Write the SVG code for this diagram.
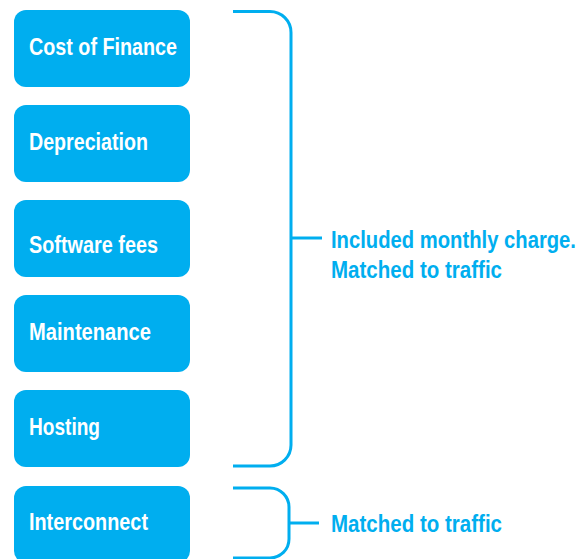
<svg xmlns="http://www.w3.org/2000/svg" width="582" height="559" viewBox="0 0 582 559">
<style>
.box{fill:#00AEEF;}
.lbl{fill:#fff;font-family:"Liberation Sans",Arial,sans-serif;font-weight:bold;font-size:24px;}
.note{fill:#00AEEF;font-family:"Liberation Sans",Arial,sans-serif;font-weight:bold;font-size:24px;}
.br{fill:none;stroke:#00AEEF;stroke-width:3;}
</style>
<rect width="582" height="559" fill="#fff"/>
<g id="n1"><rect class="box" x="14" y="10" width="176" height="77" rx="12"/><text class="lbl" x="29" y="55" textLength="148" lengthAdjust="spacingAndGlyphs">Cost of Finance</text></g>
<g id="n2"><rect class="box" x="14" y="105" width="176" height="77" rx="12"/><text class="lbl" x="29" y="150" textLength="119" lengthAdjust="spacingAndGlyphs">Depreciation</text></g>
<g id="n3"><rect class="box" x="14" y="200" width="176" height="77" rx="12"/><text class="lbl" x="29" y="253" textLength="129" lengthAdjust="spacingAndGlyphs">Software fees</text></g>
<g id="n4"><rect class="box" x="14" y="295" width="176" height="77" rx="12"/><text class="lbl" x="29" y="340" textLength="122" lengthAdjust="spacingAndGlyphs">Maintenance</text></g>
<g id="n5"><rect class="box" x="14" y="390" width="176" height="77" rx="12"/><text class="lbl" x="29" y="435" textLength="71" lengthAdjust="spacingAndGlyphs">Hosting</text></g>
<g id="n6"><rect class="box" x="14" y="486" width="176" height="77" rx="12"/><text class="lbl" x="29" y="530" textLength="119" lengthAdjust="spacingAndGlyphs">Interconnect</text></g>
<g id="connectors">
<path class="br" d="M233 11.5 H270 A21 21 0 0 1 291 32.5 V445 A21 21 0 0 1 270 466 H233"/>
<path class="br" d="M291 238 H322"/>
<path class="br" d="M233 488 H270 A19 19 0 0 1 289 507 V539 A19 19 0 0 1 270 558 H233"/>
<path class="br" d="M289 523 H319"/>
</g>
<g id="notes">
<text class="note" x="331" y="248" textLength="245" lengthAdjust="spacingAndGlyphs">Included monthly charge.</text>
<text class="note" x="331" y="278" textLength="171" lengthAdjust="spacingAndGlyphs">Matched to traffic</text>
<text class="note" x="331" y="532" textLength="171" lengthAdjust="spacingAndGlyphs">Matched to traffic</text>
</g>
</svg>
